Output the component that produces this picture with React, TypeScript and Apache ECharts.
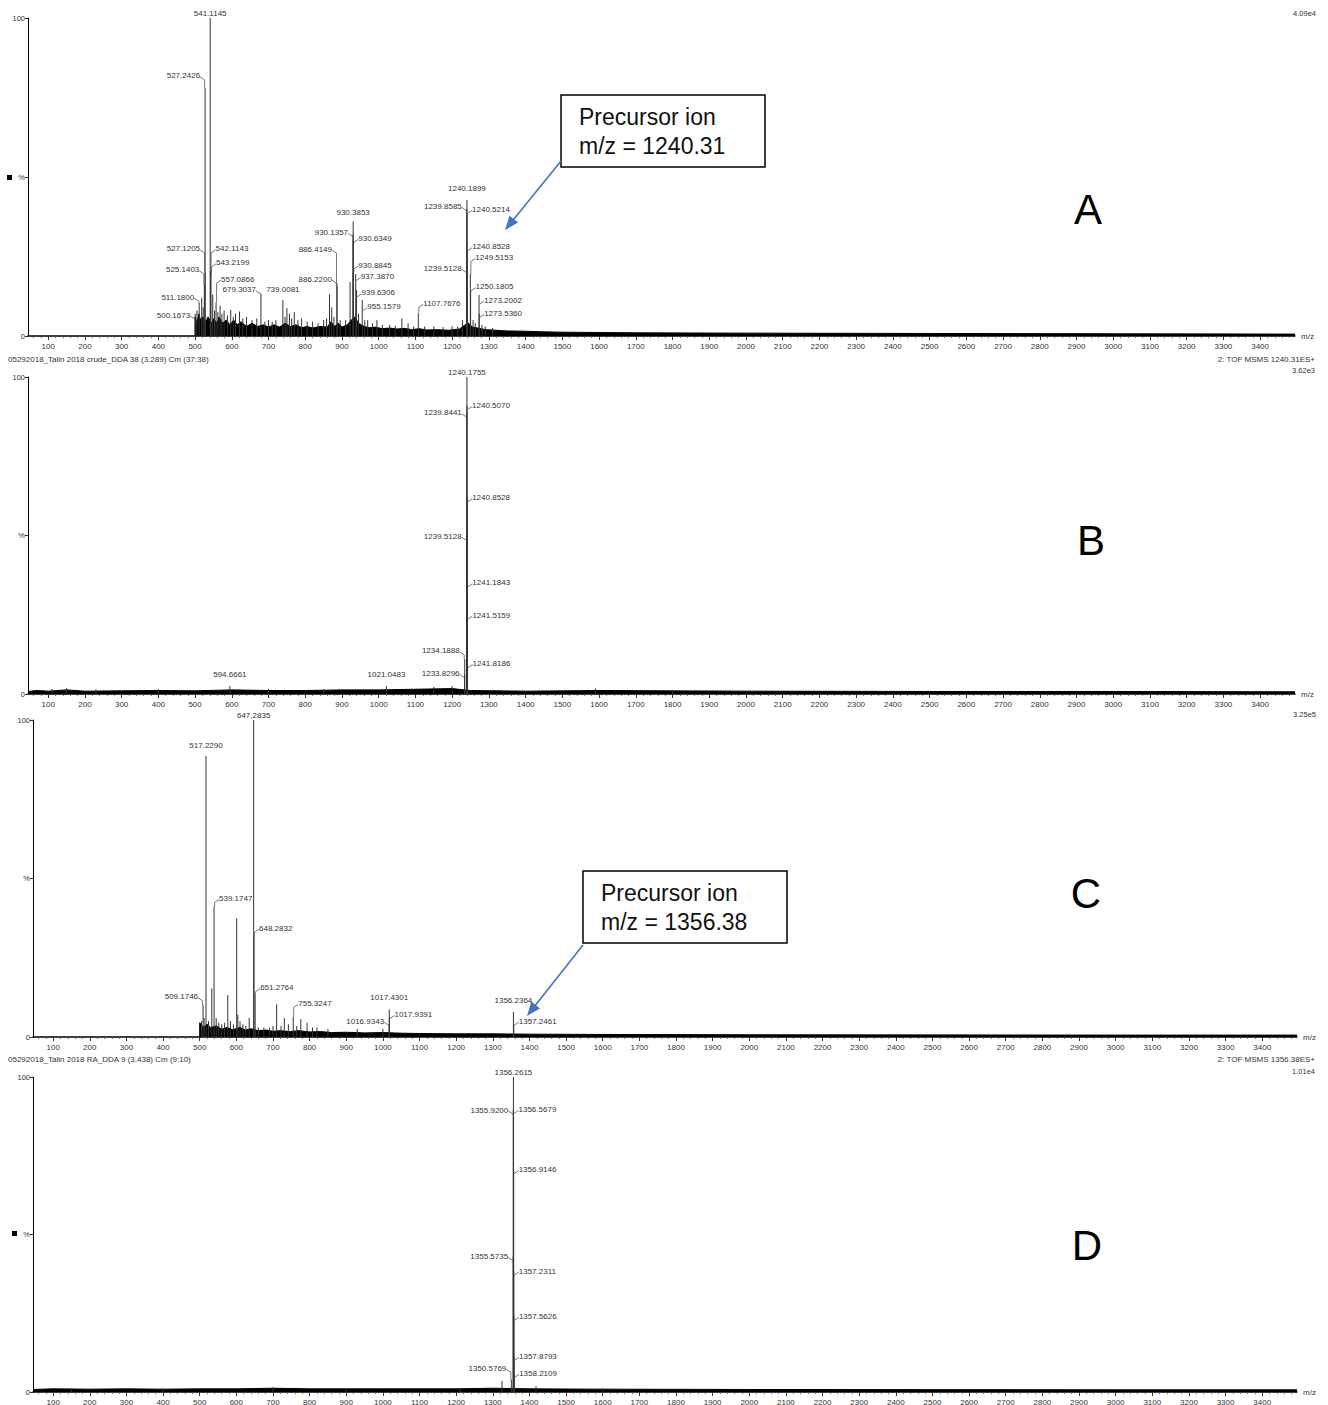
import React, { useEffect, useRef } from 'react';
import * as echarts from 'echarts';

// ---------- axis values ----------
const X_MIN = 45;
const X_MAX = 3495;
const tickLabels = [100, 200, 300, 400, 500, 600, 700, 800, 900, 1000, 1100, 1200, 1300, 1400, 1500, 1600, 1700,
  1800, 1900, 2000, 2100, 2200, 2300, 2400, 2500, 2600, 2700, 2800, 2900, 3000, 3100, 3200, 3300, 3400];
const yTicks = [0, 50, 100];

// ---------- Panel A (crude, MS/MS 1240.31) ----------
const peaksA: [number, number][] = [
  [500.17, 7], [505, 8], [511.18, 10.5], [518, 12], [522, 9], [525.14, 16], [527.12, 20], [527.24, 78], [541.11, 100],
  [542.11, 20.5], [543.22, 19], [548, 13], [553, 8], [557.09, 10.5], [562, 7.5], [568, 9.5], [573, 7], [579, 8],
  [588, 6.5], [597, 8.2], [604, 6], [610, 7], [621, 7.7], [630, 5.5], [640, 6], [655, 5], [668, 5.5], [679.3, 13.4],
  [690, 4.5], [700, 5], [710, 4.5], [720, 5], [739.01, 11.3], [745, 6], [750, 8.8], [757, 7], [763, 5.5], [770, 7.5],
  [780, 5], [790, 5.5], [805, 4.5], [820, 4.5], [835, 4], [850, 5], [858, 5.5], [866, 13.1], [872, 9], [878, 6],
  [886.22, 15.5], [886.41, 16.5], [895, 5], [910, 5], [922, 17], [930.14, 32], [930.39, 36], [930.63, 30],
  [930.88, 20], [937.39, 19.5], [939.63, 14.5], [945, 7], [955.16, 11.3], [962, 5], [970, 5], [983, 4], [995, 5],
  [1010, 3.5], [1030, 3.5], [1045, 3.2], [1063, 5.5], [1080, 4], [1095, 3], [1107.77, 7.1], [1125, 3], [1150, 3],
  [1175, 2.8], [1200, 3], [1215, 3], [1228, 5], [1239.51, 20], [1239.86, 40], [1240.19, 42.8], [1240.52, 38],
  [1240.85, 27], [1249.52, 19.5], [1250.18, 14], [1257, 5], [1263, 4], [1273.2, 12.9], [1273.54, 7], [1281, 3.5],
  [1290, 3], [1310, 2.5],
];
// [text, peak %, label %, side]
const labelsA: [string, number, number, string][] = [
  ['541.1145', 100, 100, 'T'], ['527.2426', 78, 81.8, 'L'], ['527.1205', 20, 27.4, 'L'], ['525.1403', 16, 20.8, 'L'],
  ['511.1800', 10.5, 12.2, 'L'], ['500.1673', 7, 6.6, 'L'], ['542.1143', 20.5, 27.4, 'R'], ['543.2199', 19, 23, 'R'],
  ['557.0866', 10.5, 17.9, 'R'], ['679.3037', 13.4, 14.5, 'L'], ['739.0081', 11.3, 13.1, 'T'],
  ['886.4149', 16.5, 27.3, 'L'], ['886.2200', 15.5, 17.9, 'L'], ['930.3853', 36, 37.2, 'T'], ['930.1357', 32, 32.6, 'L'],
  ['930.6349', 30, 30.7, 'R'], ['930.8845', 20, 22.3, 'R'], ['937.3870', 19.5, 18.7, 'R'], ['939.6306', 14.5, 13.6, 'R'],
  ['955.1579', 11.3, 9.2, 'R'], ['1107.7676', 7.1, 10.3, 'R'], ['1240.1899', 42.8, 44.7, 'T'],
  ['1239.8585', 40, 40.7, 'L'], ['1240.5214', 38, 39.8, 'R'], ['1240.8528', 27, 28.1, 'R'], ['1249.5153', 19.5, 24.7, 'R'],
  ['1239.5128', 20, 21.3, 'L'], ['1250.1805', 14, 15.5, 'R'], ['1273.2002', 12.9, 11.3, 'R'], ['1273.5360', 7, 7.1, 'R'],
];
const noiseA: [number, number][] = [
  [500, 0], [500, 6], [505, 4], [510, 7], [515, 5], [520, 6], [530, 4.5], [535, 6], [545, 4], [550, 5.5], [560, 4],
  [565, 6], [575, 4], [585, 5], [595, 3.5], [605, 5], [615, 3.5], [625, 4.5], [640, 3], [655, 4], [670, 3],
  [685, 3.5], [700, 2.8], [715, 3.5], [730, 2.8], [745, 4], [760, 3], [775, 3.5], [790, 2.6], [805, 3], [820, 2.5],
  [840, 3], [860, 2.8], [870, 4.5], [880, 3], [890, 4], [900, 2.8], [915, 3.5], [925, 5], [935, 6], [945, 4],
  [960, 3], [975, 2.6], [990, 2.8], [1010, 2.3], [1030, 2.5], [1050, 2.2], [1070, 2.4], [1090, 2], [1110, 2.3],
  [1130, 1.9], [1160, 2], [1190, 1.8], [1220, 2.2], [1235, 3.5], [1245, 4], [1255, 2.8], [1270, 2.5], [1290, 2],
  [1320, 1.8], [1350, 1.6], [1400, 1.5], [1450, 1.3], [1500, 1.2], [1600, 1.1], [1700, 1], [1850, 0.95],
  [2000, 0.9], [2250, 0.85], [2500, 0.8], [3000, 0.7], [3495, 0.6],
];

// ---------- Panel B ----------
const peaksB: [number, number][] = [
  [110, 1.6], [150, 1.8], [230, 1.4], [400, 1.5], [594.67, 2.5], [700, 1.6], [850, 1.5], [1021.05, 2.5],
  [1150, 2.2], [1200, 2.5], [1233.83, 6], [1234.19, 11], [1239.51, 50], [1239.84, 88.7], [1240.18, 100],
  [1240.51, 91], [1240.85, 62], [1241.18, 35], [1241.52, 25], [1241.82, 9.6], [1590, 1.8], [1800, 1.3],
];
const labelsB: [string, number, number, string][] = [
  ['1240.1755', 100, 100, 'T'], ['1240.5070', 91, 91, 'R'], ['1239.8441', 88.7, 88.7, 'L'], ['1240.8528', 62, 61.9, 'R'],
  ['1239.5128', 50, 49.8, 'L'], ['1241.1843', 35, 35.1, 'R'], ['1241.5159', 25, 24.9, 'R'], ['1234.1888', 11, 13.6, 'L'],
  ['1241.8186', 9.6, 9.6, 'R'], ['1233.8296', 6, 6.5, 'L'], ['1021.0483', 2.5, 4.6, 'T'], ['594.6661', 2.5, 4.7, 'T'],
];
const noiseB: [number, number][] = [
  [45, 0.8], [70, 1.1], [100, 0.9], [150, 1.3], [200, 0.9], [300, 1], [400, 1.1], [500, 1], [600, 1.3], [700, 1.1],
  [800, 1.1], [900, 1.3], [1000, 1.3], [1100, 1.5], [1200, 1.7], [1250, 1.1], [1400, 0.9], [1600, 1.1],
  [2000, 0.9], [2500, 0.8], [3000, 0.8], [3495, 0.7],
];

// ---------- Panel C (RA, MS/MS 1356.38) ----------
const peaksC: [number, number][] = [
  [505, 5], [509.17, 10], [512, 6], [517.23, 88.6], [524, 5], [533, 15.3], [539.17, 41], [545, 6], [552, 4.5],
  [560, 4], [568, 4.5], [576.6, 13.2], [584, 5], [592, 4], [601, 37.4], [604, 7], [610, 5], [618, 4], [626, 3.5],
  [635, 6], [647.28, 100], [648.28, 32], [651.28, 14], [660, 3], [675, 3], [690, 3], [700, 3.5], [710, 10.3],
  [722, 3.5], [731, 6], [742, 4], [755.32, 6.4], [765, 3.5], [776, 5.6], [793, 4.5], [808, 3], [820, 3], [850, 2.5],
  [930, 2.5], [1000, 2.5], [1016.93, 4], [1017.43, 8.7], [1017.94, 6], [1356.24, 7.9], [1357.25, 4],
];
const labelsC: [string, number, number, string][] = [
  ['647.2835', 100, 100, 'T'], ['517.2290', 88.6, 90.3, 'T'], ['539.1747', 41, 43.7, 'R'], ['648.2832', 32, 34.3, 'R'],
  ['651.2764', 14, 15.6, 'R'], ['509.1746', 10, 12.7, 'L'], ['755.3247', 6.4, 10.6, 'R'], ['1017.4301', 8.7, 10.8, 'T'],
  ['1016.9343', 4, 5, 'L'], ['1017.9391', 6, 7.1, 'R'], ['1356.2364', 7.9, 9.8, 'T'], ['1357.2461', 4, 5, 'R'],
];
const noiseC: [number, number][] = [
  [500, 0], [500, 4.5], [510, 3], [520, 4], [530, 3], [545, 3.5], [560, 2.5], [575, 3], [590, 2.3], [610, 3],
  [625, 2.2], [640, 2.6], [660, 2], [680, 2.2], [700, 1.8], [720, 2], [745, 1.7], [770, 2], [800, 1.6], [830, 1.7],
  [860, 1.4], [900, 1.5], [950, 1.3], [1000, 1.4], [1050, 1.2], [1100, 1.1], [1200, 1], [1300, 1], [1400, 0.9],
  [1600, 0.8], [2000, 0.7], [3000, 0.6], [3495, 0.6],
];

// ---------- Panel D ----------
const peaksD: [number, number][] = [
  [150, 1.2], [400, 1.2], [700, 1.5], [900, 1.2], [1210, 1.2], [1325, 3.5], [1350.58, 4], [1355.57, 43],
  [1355.92, 89.5], [1356.26, 100], [1356.57, 89.7], [1356.91, 70.6], [1357.23, 38.4], [1357.56, 24],
  [1357.88, 11.3], [1358.21, 5.9], [1418, 1.8], [1600, 1.2],
];
const labelsD: [string, number, number, string][] = [
  ['1356.2615', 100, 100, 'T'], ['1355.9200', 89.5, 89.5, 'L'], ['1356.5679', 89.7, 89.7, 'R'],
  ['1356.9146', 70.6, 70.6, 'R'], ['1355.5735', 43, 43, 'L'], ['1357.2311', 38.4, 38.4, 'R'],
  ['1357.5626', 24, 24, 'R'], ['1357.8793', 11.3, 11.3, 'R'], ['1350.5769', 4, 7.5, 'L'], ['1358.2109', 5.9, 5.9, 'R'],
];
const noiseD: [number, number][] = [
  [45, 0.8], [100, 1], [200, 0.9], [300, 1], [400, 0.9], [500, 1], [600, 1], [700, 1.2], [800, 1], [1000, 1],
  [1200, 1], [1300, 1.2], [1400, 1], [1600, 0.9], [2000, 0.8], [3000, 0.7], [3495, 0.7],
];

const FONT_FAMILY = '"Liberation Sans", Arial, sans-serif';
const TXT = '#333';

const panels = [
  { grid: { left: 28, top: 18, width: 1267, height: 318 }, peaks: peaksA, labels: labelsA, noise: noiseA },
  { grid: { left: 28, top: 377, width: 1267, height: 317 }, peaks: peaksB, labels: labelsB, noise: noiseB },
  { grid: { left: 33, top: 720, width: 1264, height: 317 }, peaks: peaksC, labels: labelsC, noise: noiseC },
  { grid: { left: 33, top: 1077, width: 1264, height: 315 }, peaks: peaksD, labels: labelsD, noise: noiseD },
];

function arrow(x1: number, y1: number, tx: number, ty: number) {
  const dx = tx - x1, dy = ty - y1;
  const len = Math.sqrt(dx * dx + dy * dy);
  const ux = dx / len, uy = dy / len;
  const bx = tx - ux * 14, by = ty - uy * 14;
  const nx = -uy, ny = ux;
  return [
    { type: 'line', shape: { x1, y1, x2: bx + ux * 2, y2: by + uy * 2 }, style: { stroke: '#4472C4', lineWidth: 1.6 } },
    {
      type: 'polygon',
      shape: { points: [[tx, ty], [bx + nx * 5.5, by + ny * 5.5], [bx - nx * 5.5, by - ny * 5.5]] },
      style: { fill: '#4472C4' },
    },
  ];
}

function txt(text: string, x: number, y: number, size: number, align: string, extra: any = {}) {
  return {
    type: 'text',
    style: { text, x, y, fill: extra.fill || TXT, font: `${size}px ${FONT_FAMILY}`, textAlign: align, textVerticalAlign: 'middle' },
  };
}

function box(x: number, y: number, l1: string, l2: string) {
  return [
    { type: 'rect', shape: { x, y, width: 204, height: 72 }, style: { fill: '#fff', stroke: '#000', lineWidth: 1.5 } },
    txt(l1, x + 18, y + 22, 23, 'left', { fill: '#111' }),
    txt(l2, x + 18, y + 51, 23, 'left', { fill: '#111' }),
  ];
}

export default function App() {
  const ref = useRef<HTMLDivElement>(null);

  useEffect(() => {
    if (!ref.current) return;
    const chart = echarts.init(ref.current, undefined, { renderer: 'svg' });

    const minorTicks: number[] = [];
    for (let v = 60; v <= 3480; v += 20) if (v % 100 !== 0) minorTicks.push(v);

    const xAxis: any[] = [];
    const yAxis: any[] = [];
    const series: any[] = [];

    panels.forEach((p, i) => {
      xAxis.push({
        gridIndex: i, type: 'value', min: X_MIN, max: X_MAX, position: 'bottom',
        name: 'm/z', nameLocation: 'end', nameGap: 6,
        nameTextStyle: { fontSize: 8, color: TXT, fontFamily: FONT_FAMILY, verticalAlign: 'middle', padding: [4, 0, 0, 0] },
        axisLine: { show: true, onZero: false, lineStyle: { color: '#000', width: 1.5 } },
        axisTick: { show: true, customValues: tickLabels, length: 4, lineStyle: { color: '#333', width: 1 } },
        axisLabel: {
          show: true, customValues: tickLabels, fontSize: 8, color: TXT, margin: 6, fontFamily: FONT_FAMILY,
          formatter: (v: number) => String(v),
        },
        splitLine: { show: false },
      });
      xAxis.push({
        gridIndex: i, type: 'value', min: X_MIN, max: X_MAX, position: 'bottom', offset: 0,
        axisLine: { show: false },
        axisTick: { show: true, customValues: minorTicks, length: 2, lineStyle: { color: '#555', width: 0.8 } },
        axisLabel: { show: false },
        splitLine: { show: false },
      });
      yAxis.push({
        gridIndex: i, type: 'value', min: 0, max: 100,
        axisLine: { show: true, lineStyle: { color: '#000', width: 1 } },
        axisTick: { show: true, customValues: yTicks, length: 3, lineStyle: { color: '#333' } },
        axisLabel: {
          show: true, customValues: yTicks, fontSize: 7.5, color: TXT, margin: 3, fontFamily: FONT_FAMILY,
          formatter: (v: number) => (v === 50 ? '%' : String(v)),
        },
        splitLine: { show: false },
      });

      series.push({
        type: 'line', xAxisIndex: i * 2, yAxisIndex: i, data: p.noise, symbol: 'none', silent: true, z: 2,
        lineStyle: { color: '#000', width: 1 }, areaStyle: { color: '#000', opacity: 1 },
      });
      series.push({
        type: 'custom', xAxisIndex: i * 2, yAxisIndex: i, data: p.peaks, silent: true, z: 3,
        encode: { x: 0, y: 1 },
        renderItem: (params: any, api: any) => {
          const a = api.coord([api.value(0), 0]);
          const b = api.coord([api.value(0), api.value(1)]);
          return { type: 'line', shape: { x1: a[0], y1: a[1], x2: b[0], y2: b[1] }, style: { stroke: '#333', lineWidth: 1 } };
        },
      });
      const labels = p.labels;
      series.push({
        type: 'custom', xAxisIndex: i * 2, yAxisIndex: i, silent: true, z: 5, clip: false,
        data: labels.map((l) => [parseFloat(l[0]), l[1], l[2]]),
        encode: { x: 0, y: 1 },
        renderItem: (params: any, api: any) => {
          const lb = labels[params.dataIndex];
          const mz = api.value(0);
          const pt = api.coord([mz, api.value(1)]);
          const q = api.coord([mz, api.value(2)]);
          const font = `8px ${FONT_FAMILY}`;
          const children: any[] = [];
          if (lb[3] === 'T') {
            children.push({
              type: 'text',
              style: { text: lb[0], x: pt[0], y: q[1] - 1, textAlign: 'center', textVerticalAlign: 'bottom', font, fill: TXT },
            });
          } else {
            const dir = lb[3] === 'L' ? -1 : 1;
            const tx = pt[0] + dir * 5;
            children.push({
              type: 'text',
              style: { text: lb[0], x: tx, y: q[1], textAlign: dir < 0 ? 'right' : 'left', textVerticalAlign: 'middle', font, fill: TXT },
            });
            const pts: number[][] = [[tx, q[1] + 1], [pt[0] + dir * 0.5, q[1] + 4]];
            if (q[1] + 4 < pt[1]) pts.push([pt[0] + dir * 0.5, pt[1]]);
            children.push({ type: 'polyline', shape: { points: pts }, style: { stroke: '#555', lineWidth: 0.8, fill: null } });
          }
          return { type: 'group', children };
        },
      });
    });

    const graphic: any[] = [
      txt('4.09e4', 1316, 13, 7.5, 'right'),
      txt('05292018_Talin 2018 crude_DDA 38 (3.289) Cm (37:38)', 8, 359, 8, 'left'),
      txt('2: TOF MSMS 1240.31ES+', 1315, 359, 8, 'right'),
      txt('3.62e3', 1315, 370, 7.5, 'right'),
      txt('3.25e5', 1316, 714, 7.5, 'right'),
      txt('05292018_Talin 2018 RA_DDA 9 (3.438) Cm (9:10)', 8, 1059, 8, 'left'),
      txt('2: TOF MSMS 1356.38ES+', 1315, 1059, 8, 'right'),
      txt('1.01e4', 1315, 1071, 7.5, 'right'),
      { type: 'rect', shape: { x: 7, y: 175, width: 5, height: 5 }, style: { fill: '#000' } },
      { type: 'rect', shape: { x: 12, y: 1231, width: 5, height: 5 }, style: { fill: '#000' } },
      txt('A', 1088, 209, 42, 'center', { fill: '#000' }),
      txt('B', 1091, 540, 42, 'center', { fill: '#000' }),
      txt('C', 1086, 893, 42, 'center', { fill: '#000' }),
      txt('D', 1087, 1245, 42, 'center', { fill: '#000' }),
      ...box(561, 95, 'Precursor ion', 'm/z = 1240.31'),
      ...box(583, 871, 'Precursor ion', 'm/z = 1356.38'),
      ...arrow(561, 161, 505, 230),
      ...arrow(583, 945, 527, 1016),
    ];

    chart.setOption({
      animation: false,
      backgroundColor: '#fff',
      grid: panels.map((p) => ({ ...p.grid, containLabel: false, outerBoundsMode: 'none' })),
      xAxis,
      yAxis,
      series,
      graphic,
    });

    return () => chart.dispose();
  }, []);

  return <div ref={ref} style={{ position: 'absolute', left: 0, top: 0, width: 1328, height: 1405 }} />;
}
